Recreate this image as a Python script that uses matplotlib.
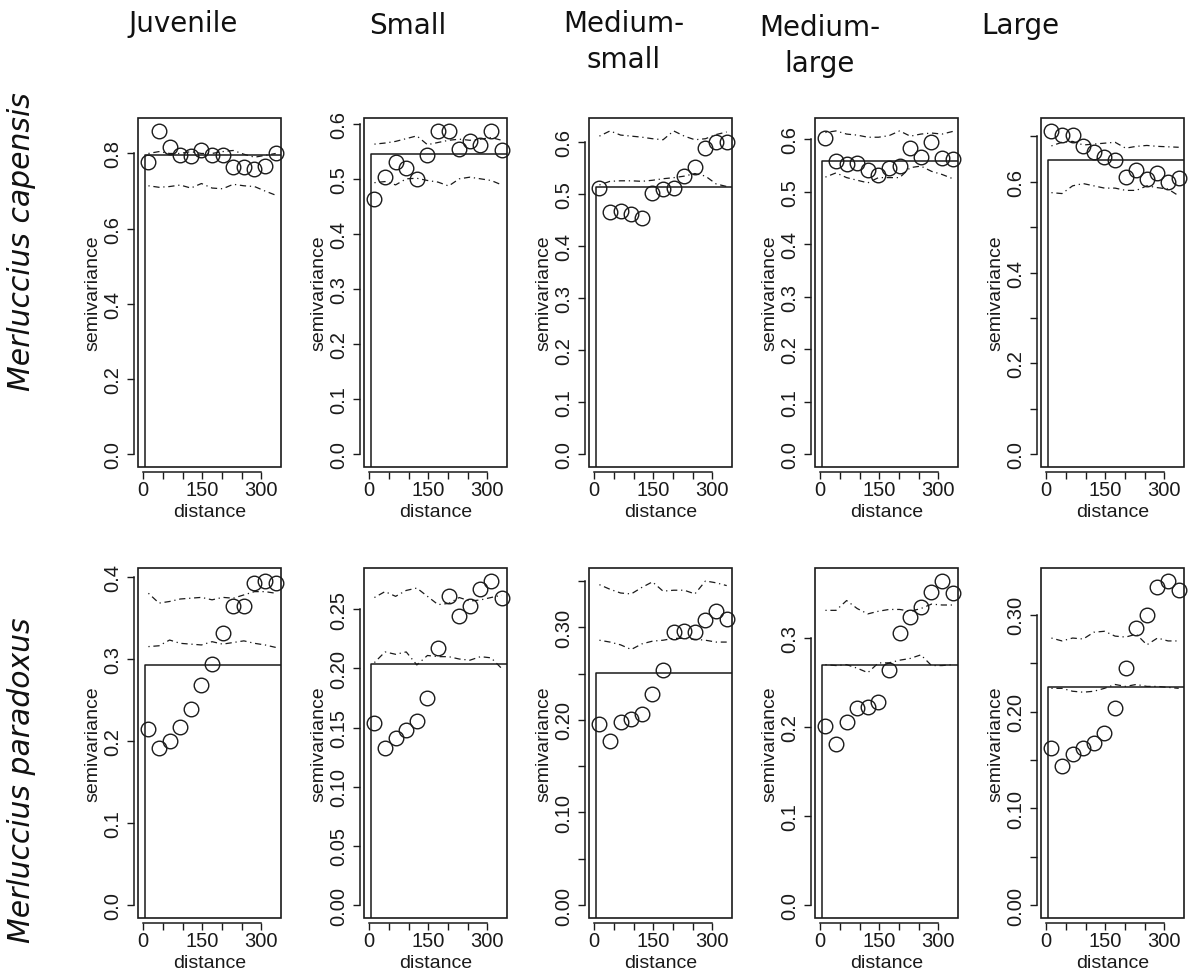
#!/usr/bin/env python3
"""
Empirical semivariograms of hake abundance by size class, with
pure-nugget model and Monte Carlo envelopes (2 species x 5 classes).
"""

import matplotlib
matplotlib.use("Agg")
import matplotlib.pyplot as plt
from matplotlib.patches import Rectangle

# lag distances (bin centres) shared by every panel
lags = [13, 40, 67, 94, 121, 148, 175, 202, 229, 256, 283, 310, 337]

size_classes = ["Juvenile", "Small", "Medium-\nsmall", "Medium-\nlarge", "Large"]
species = ["Merluccius capensis", "Merluccius paradoxus"]

# --- M. capensis ---------------------------------------------------------
cap_juv_gamma = [0.778, 0.860, 0.818, 0.796, 0.794, 0.810, 0.795, 0.797, 0.763, 0.764, 0.760, 0.766, 0.800]
cap_juv_upper = [0.800, 0.805, 0.800, 0.800, 0.805, 0.800, 0.800, 0.805, 0.808, 0.798, 0.790, 0.795, 0.800]
cap_juv_lower = [0.714, 0.710, 0.712, 0.716, 0.708, 0.720, 0.708, 0.706, 0.718, 0.714, 0.712, 0.700, 0.689]
cap_juv_nugget = 0.795

cap_sml_gamma = [0.464, 0.503, 0.530, 0.519, 0.500, 0.544, 0.587, 0.587, 0.555, 0.568, 0.561, 0.587, 0.552]
cap_sml_upper = [0.563, 0.565, 0.568, 0.573, 0.578, 0.562, 0.566, 0.570, 0.572, 0.570, 0.572, 0.575, 0.570]
cap_sml_lower = [0.493, 0.495, 0.489, 0.500, 0.501, 0.497, 0.494, 0.487, 0.500, 0.503, 0.500, 0.497, 0.489]
cap_sml_nugget = 0.545

cap_msm_gamma = [0.512, 0.465, 0.468, 0.463, 0.454, 0.502, 0.510, 0.513, 0.536, 0.553, 0.590, 0.600, 0.600]
cap_msm_upper = [0.612, 0.622, 0.614, 0.612, 0.610, 0.607, 0.605, 0.622, 0.612, 0.605, 0.607, 0.615, 0.620]
cap_msm_lower = [0.518, 0.525, 0.526, 0.526, 0.525, 0.527, 0.530, 0.532, 0.535, 0.540, 0.535, 0.520, 0.515]
cap_msm_nugget = 0.514

cap_mlg_gamma = [0.602, 0.558, 0.553, 0.554, 0.541, 0.532, 0.546, 0.549, 0.584, 0.566, 0.595, 0.565, 0.563]
cap_mlg_upper = [0.613, 0.616, 0.610, 0.608, 0.604, 0.604, 0.607, 0.616, 0.606, 0.610, 0.612, 0.610, 0.615]
cap_mlg_lower = [0.528, 0.536, 0.527, 0.522, 0.517, 0.527, 0.527, 0.527, 0.546, 0.549, 0.539, 0.533, 0.525]
cap_mlg_nugget = 0.558

cap_lrg_gamma = [0.712, 0.704, 0.702, 0.678, 0.666, 0.655, 0.648, 0.611, 0.625, 0.606, 0.619, 0.599, 0.608]
cap_lrg_upper = [0.679, 0.687, 0.689, 0.681, 0.683, 0.685, 0.687, 0.674, 0.678, 0.680, 0.678, 0.677, 0.676]
cap_lrg_lower = [0.576, 0.574, 0.591, 0.596, 0.591, 0.586, 0.586, 0.581, 0.581, 0.591, 0.587, 0.584, 0.569]
cap_lrg_nugget = 0.649

# --- M. paradoxus --------------------------------------------------------
par_juv_gamma = [0.215, 0.191, 0.200, 0.217, 0.239, 0.268, 0.294, 0.332, 0.364, 0.364, 0.392, 0.395, 0.392]
par_juv_upper = [0.380, 0.368, 0.370, 0.373, 0.374, 0.375, 0.372, 0.375, 0.374, 0.378, 0.382, 0.382, 0.380]
par_juv_lower = [0.315, 0.316, 0.323, 0.319, 0.318, 0.317, 0.321, 0.318, 0.320, 0.322, 0.319, 0.317, 0.314]
par_juv_nugget = 0.293

par_sml_gamma = [0.154, 0.133, 0.141, 0.148, 0.156, 0.175, 0.217, 0.261, 0.244, 0.253, 0.267, 0.274, 0.260]
par_sml_upper = [0.260, 0.265, 0.261, 0.266, 0.268, 0.261, 0.254, 0.255, 0.260, 0.257, 0.258, 0.260, 0.262]
par_sml_lower = [0.205, 0.214, 0.212, 0.214, 0.203, 0.211, 0.210, 0.210, 0.208, 0.207, 0.210, 0.209, 0.200]
par_sml_nugget = 0.204

par_msm_gamma = [0.196, 0.177, 0.198, 0.201, 0.206, 0.228, 0.254, 0.295, 0.296, 0.295, 0.308, 0.318, 0.309]
par_msm_upper = [0.346, 0.341, 0.337, 0.336, 0.343, 0.349, 0.339, 0.340, 0.340, 0.336, 0.350, 0.348, 0.345]
par_msm_lower = [0.286, 0.284, 0.281, 0.276, 0.282, 0.285, 0.286, 0.288, 0.288, 0.287, 0.286, 0.284, 0.284]
par_msm_nugget = 0.251

par_mlg_gamma = [0.201, 0.181, 0.206, 0.221, 0.222, 0.228, 0.264, 0.306, 0.324, 0.335, 0.352, 0.364, 0.350]
par_mlg_upper = [0.331, 0.331, 0.342, 0.333, 0.327, 0.330, 0.332, 0.332, 0.330, 0.333, 0.338, 0.337, 0.337]
par_mlg_lower = [0.270, 0.269, 0.270, 0.266, 0.261, 0.272, 0.272, 0.275, 0.277, 0.281, 0.269, 0.269, 0.270]
par_mlg_nugget = 0.270

par_lrg_gamma = [0.162, 0.144, 0.156, 0.162, 0.167, 0.178, 0.204, 0.245, 0.286, 0.300, 0.329, 0.335, 0.326]
par_lrg_upper = [0.276, 0.273, 0.276, 0.275, 0.282, 0.283, 0.278, 0.277, 0.280, 0.269, 0.276, 0.273, 0.273]
par_lrg_lower = [0.224, 0.224, 0.221, 0.220, 0.221, 0.224, 0.228, 0.226, 0.228, 0.226, 0.226, 0.225, 0.224]
par_lrg_nugget = 0.225

panels = [
    [(cap_juv_gamma, cap_juv_upper, cap_juv_lower, cap_juv_nugget),
     (cap_sml_gamma, cap_sml_upper, cap_sml_lower, cap_sml_nugget),
     (cap_msm_gamma, cap_msm_upper, cap_msm_lower, cap_msm_nugget),
     (cap_mlg_gamma, cap_mlg_upper, cap_mlg_lower, cap_mlg_nugget),
     (cap_lrg_gamma, cap_lrg_upper, cap_lrg_lower, cap_lrg_nugget)],
    [(par_juv_gamma, par_juv_upper, par_juv_lower, par_juv_nugget),
     (par_sml_gamma, par_sml_upper, par_sml_lower, par_sml_nugget),
     (par_msm_gamma, par_msm_upper, par_msm_lower, par_msm_nugget),
     (par_mlg_gamma, par_mlg_upper, par_mlg_lower, par_mlg_nugget),
     (par_lrg_gamma, par_lrg_upper, par_lrg_lower, par_lrg_nugget)],
]

# y axis: (tick step, number of ticks, label every n-th tick, decimals)
y_axes = [
    [(0.2, 5, 1, 1), (0.1, 7, 1, 1), (0.1, 7, 1, 1), (0.1, 7, 1, 1), (0.1, 8, 2, 1)],
    [(0.1, 5, 1, 1), (0.05, 6, 1, 2), (0.05, 8, 2, 2), (0.1, 4, 1, 1), (0.05, 7, 2, 2)],
]

x_ticks = [0, 50, 100, 150, 200, 250, 300]
x_ticklabels = ["0", "", "", "150", "", "", "300"]

W, H = 1192, 979
fig = plt.figure(figsize=(W / 100, H / 100), dpi=100)
plt.rcParams["font.family"] = ["Liberation Sans", "DejaVu Sans"]

box_left = [138, 364, 589, 815, 1041]
box_w = 143
row_top = [119, 569]
row_h = [349, 350]

ink = "#1a1a1a"

for r in range(2):
    for c in range(5):
        gamma, upper, lower, nugget = panels[r][c]
        step, nt, every, dec = y_axes[r][c]

        ax = fig.add_axes([box_left[c] / W, 1 - (row_top[r] + row_h[r]) / H,
                           box_w / W, row_h[r] / H])

        ymax = max(max(gamma), max(upper))
        ylo, yhi = -0.04 * ymax, 1.04 * ymax
        xlo, xhi = -0.04 * lags[-1], 1.04 * lags[-1]
        ax.set_xlim(xlo, xhi)
        ax.set_ylim(ylo, yhi)

        # envelopes
        ax.plot(lags, upper, color=ink, lw=0.9, ls=(0, (1, 3, 5, 3)))
        ax.plot(lags, lower, color=ink, lw=0.9, ls=(0, (1, 3, 5, 3)))
        # pure-nugget model
        ax.plot([4, 4, xhi], [ylo, nugget, nugget], color=ink, lw=1.1)
        # empirical semivariance
        ax.plot(lags, gamma, ls="none", marker="o", ms=10.5, mfc="none",
                mec=ink, mew=1.0, clip_on=False)

        # R style axes: detached lines spanning the tick range, plus a box
        ax.add_patch(Rectangle((0, 0), 1, 1, transform=ax.transAxes,
                               fill=False, lw=1.2, ec=ink, clip_on=False))
        for s in ("top", "right"):
            ax.spines[s].set_visible(False)
        ax.spines["left"].set_position(("outward", 3))
        ax.spines["bottom"].set_position(("outward", 3.5))
        for s in ("left", "bottom"):
            ax.spines[s].set_linewidth(1.1)
            ax.spines[s].set_color(ink)

        yt = [round(i * step, 3) for i in range(nt)]
        ylabels = [f"{v:.{dec}f}" if i % every == 0 else "" for i, v in enumerate(yt)]
        ax.set_yticks(yt)
        ax.set_yticklabels(ylabels, rotation=90, va="center")
        ax.spines["left"].set_bounds(yt[0], yt[-1])

        ax.set_xticks(x_ticks)
        ax.set_xticklabels(x_ticklabels)
        ax.spines["bottom"].set_bounds(x_ticks[0], x_ticks[-1])

        ax.tick_params(direction="out", length=5, width=1.0, color=ink,
                       labelsize=14.5, labelcolor=ink)
        ax.tick_params(axis="x", pad=1)
        ax.tick_params(axis="y", pad=3)

        ax.set_xlabel("distance", fontsize=14, color=ink, labelpad=3)
        ax.set_ylabel("semivariance", fontsize=14, color=ink, labelpad=2)

# column headings
title_x = [183, 408, 624, 820, 1020]
title_top = [10, 12, 10, 14, 12]
for t, x, y in zip(size_classes, title_x, title_top):
    fig.text(x / W, 1 - y / H, t, ha="center", va="top", fontsize=20,
             family="DejaVu Sans", color="#111111", linespacing=1.35)

# species labels down the left side
species_y = [242, 780]
for name, y in zip(species, species_y):
    fig.text(22 / W, 1 - y / H, name, rotation=90, ha="center", va="center",
             fontsize=21.5, style="italic", family="DejaVu Sans", color="#111111")

fig.savefig("out.png", dpi=100)
